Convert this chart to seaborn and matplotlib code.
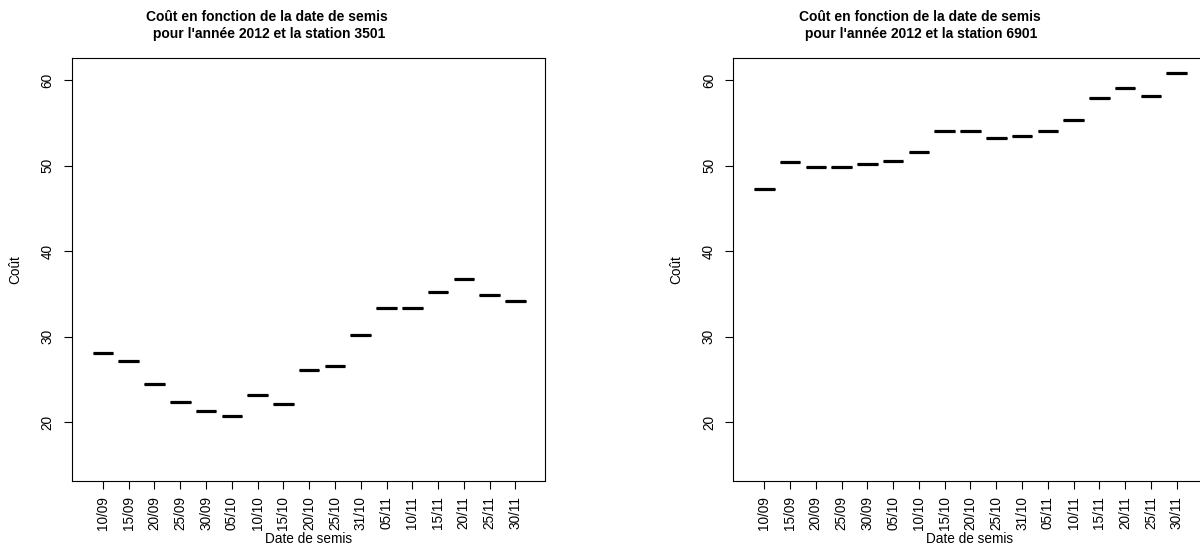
import pandas as pd
import numpy as np
import matplotlib
matplotlib.use("Agg")
import matplotlib.pyplot as plt
import seaborn as sns

# Dates de semis (categories on x)
dates = ["10/09", "15/09", "20/09", "25/09", "30/09", "05/10", "10/10", "15/10",
         "20/10", "25/10", "31/10", "05/11", "10/11", "15/11", "20/11", "25/11", "30/11"]

# Cost per sowing date, station 3501
cout_3501 = [28.1, 27.1, 24.5, 22.3, 21.3, 20.7, 23.2, 22.1,
             26.1, 26.6, 30.2, 33.3, 33.3, 35.2, 36.7, 34.9, 34.2]

# Cost per sowing date, station 6901
cout_6901 = [47.3, 50.4, 49.9, 49.9, 50.2, 50.6, 51.6, 54.0,
             54.0, 53.2, 53.5, 54.0, 55.4, 57.9, 59.1, 58.1, 60.8]

stations = ["3501", "6901"]
yticks = [20, 30, 40, 50, 60]

df = pd.DataFrame({
    "date": dates * 2,
    "cout": cout_3501 + cout_6901,
    "station": ["3501"] * len(dates) + ["6901"] * len(dates),
})

sns.set_style("white")
plt.rcParams["font.family"] = ["Liberation Sans", "DejaVu Sans"]
plt.rcParams.update({"text.color": "black", "axes.labelcolor": "black",
                     "xtick.color": "black", "ytick.color": "black"})

fig = plt.figure(figsize=(12, 5.48), dpi=100)

# axes positions in figure fraction (right panel runs past the right edge)
ax_w, ax_h, ax_b = 0.3942, 0.7719, 0.1223
axes = [fig.add_axes([0.0600, ax_b, ax_w, ax_h]),
        fig.add_axes([0.6111, ax_b, ax_w, ax_h])]
title_x = [266.7 / 1200, 919.5 / 1200]

for ax, st, tx in zip(axes, stations, title_x):
    sub = df[df["station"] == st]
    sns.boxplot(data=sub, x="date", y="cout", order=dates, ax=ax,
                color="white", linecolor="black", linewidth=0.8, width=0.8,
                medianprops=dict(linewidth=2.3, color="black"),
                showfliers=False)
    ax.set_xlim(-1.2, 17.15)
    ax.set_ylim(13.1, 62.6)
    ax.set_yticks(yticks)
    ax.set_yticklabels([str(v) for v in yticks], rotation=90, va="center", fontsize=9.8)
    ax.set_xticks(range(len(dates)))
    ax.set_xticklabels(dates, rotation=90, fontsize=9.8)
    ax.tick_params(axis="both", direction="out", length=5.5, width=0.8, color="black",
                   left=True, bottom=True)
    ax.tick_params(axis="y", pad=7)
    ax.tick_params(axis="x", pad=5.5)
    for sp in ax.spines.values():
        sp.set_visible(True)
        sp.set_color("black")
        sp.set_linewidth(0.8)
    ax.set_ylabel("Coût", fontsize=9.8, va="center")
    ax.yaxis.set_label_coords(-0.121, 0.5)
    ax.set_xlabel("Date de semis", fontsize=9.8, va="center")
    ax.xaxis.set_label_coords(0.5, -0.137)
    fig.text(tx, 1 - 25.5 / 548,
             "Coût en fonction de la date de semis\n pour l'année 2012 et la station " + st,
             ha="center", va="center", fontsize=10, fontweight="bold",
             multialignment="center")

plt.savefig("out.png", dpi=100)
